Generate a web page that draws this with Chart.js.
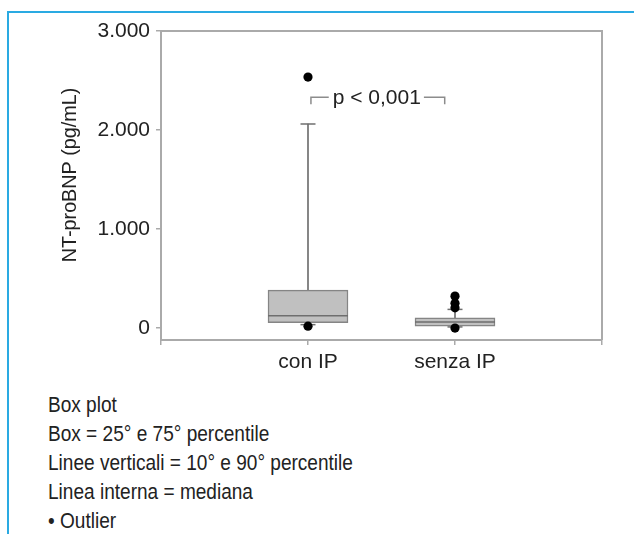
<!DOCTYPE html>
<html><head><meta charset="utf-8">
<script src="https://cdn.jsdelivr.net/npm/chart.js@4/dist/chart.umd.min.js"></script>
<style>
html,body{margin:0;padding:0;background:#fff;}
#wrap{position:relative;width:634px;height:534px;overflow:hidden;background:#fff;}
#frame{position:absolute;left:7px;top:11px;width:700px;height:600px;border-top:2px solid #2aaae2;border-left:2px solid #2aaae2;}
#cwrap{position:absolute;left:0;top:0;width:634px;height:385px;}
#notes{position:absolute;left:48px;top:390px;font-family:'Liberation Sans',sans-serif;font-size:22px;line-height:29px;color:#222;white-space:nowrap;transform:scaleX(0.866);transform-origin:0 0;}
</style></head>
<body><div id="wrap"><div id="frame"></div><div id="cwrap"><canvas id="c" width="634" height="385"></canvas></div>
<div id="notes">Box plot<br>Box = 25° e 75° percentile<br>Linee verticali = 10° e 90° percentile<br>Linea interna = mediana<br>• Outlier</div></div>
<script>
// ---- data ----
const categories = ['con IP', 'senza IP'];
const p10 = [35, 12];
const q1 = [54, 20];
const median = [124, 61];
const q3 = [384, 104];
const p90 = [2061, 189];
const outliersConIP = [2535, 20];
const outliersSenzaIP = [323, 250, 205, 0];
const yTicks = [0, 1000, 2000, 3000];
const yTickLabels = ['0', '1.000', '2.000', '3.000'];
const yTitle = 'NT-proBNP (pg/mL)';
const pLabel = 'p < 0,001';
const pBracket = {from: 1.02, to: 1.93, y: 2330, drop: 70};

const axisLabels = ['', ...categories, ''];
const TXT = '#222';
const AX = '#aaaaaa';

const outlierPts = [
  ...outliersConIP.map(v => ({x: categories[0], y: v})),
  ...outliersSenzaIP.map(v => ({x: categories[1], y: v}))
];

const framePlugin = {
  id: 'frame',
  beforeDatasetsDraw(chart) {
    const {ctx, chartArea: a} = chart;
    ctx.save();
    ctx.strokeStyle = AX; ctx.lineWidth = 2;
    ctx.beginPath();
    ctx.moveTo(a.left, a.top); ctx.lineTo(a.right, a.top); ctx.lineTo(a.right, a.bottom);
    ctx.stroke();
    ctx.restore();
  },
  afterDraw(chart) {
    const {ctx} = chart;
    const xs = chart.scales.x, ys = chart.scales.y;
    ctx.save();
    ctx.translate(70, 175);
    ctx.rotate(-Math.PI / 2);
    ctx.scale(0.94, 1);
    ctx.font = "21px 'Liberation Sans', sans-serif";
    ctx.fillStyle = TXT; ctx.textAlign = 'center'; ctx.textBaseline = 'middle';
    ctx.fillText(yTitle, 0, 0);
    ctx.restore();
    ctx.save();
    const x1 = xs.getPixelForValue(pBracket.from), x2 = xs.getPixelForValue(pBracket.to);
    const y = ys.getPixelForValue(pBracket.y), yd = ys.getPixelForValue(pBracket.y - pBracket.drop);
    ctx.font = "21px 'Liberation Sans', sans-serif";
    const tw = ctx.measureText(pLabel).width;
    const xc = (x1 + x2) / 2 - 1;
    ctx.strokeStyle = '#8c8c8c'; ctx.lineWidth = 1.5;
    ctx.beginPath();
    ctx.moveTo(x1, yd); ctx.lineTo(x1, y); ctx.lineTo(xc - tw / 2 - 4, y);
    ctx.moveTo(xc + tw / 2 + 3, y); ctx.lineTo(x2, y); ctx.lineTo(x2, yd);
    ctx.stroke();
    ctx.fillStyle = TXT; ctx.textAlign = 'center'; ctx.textBaseline = 'middle';
    ctx.fillText(pLabel, xc, y + 1);
    ctx.restore();
  }
};

new Chart(document.getElementById('c'), {
  data: {
    labels: axisLabels,
    datasets: [
      {type: 'bar', order: 6, grouped: false, barThickness: 1, backgroundColor: '#6e6e6e', borderWidth: 0,
       data: categories.map((c, i) => ({x: c, y: [q3[i], p90[i]]}))},
      {type: 'bar', order: 6, grouped: false, barThickness: 1, backgroundColor: '#6e6e6e', borderWidth: 0,
       data: categories.map((c, i) => ({x: c, y: [p10[i], q1[i]]}))},
      {type: 'bar', order: 5, grouped: false, barThickness: 80, backgroundColor: '#c0c0c0', borderColor: '#858585',
       borderWidth: 1.5, borderSkipped: false,
       data: categories.map((c, i) => ({x: c, y: [q1[i], q3[i]]}))},
      {type: 'line', order: 4, showLine: false, pointStyle: 'line', pointRadius: 40, pointBorderColor: '#6e6e6e',
       pointBorderWidth: 1.5, data: categories.map((c, i) => ({x: c, y: median[i]}))},
      {type: 'line', order: 4, showLine: false, pointStyle: 'line', pointRadius: 7.5, pointBorderColor: '#6e6e6e',
       pointBorderWidth: 1.5, data: categories.map((c, i) => ({x: c, y: p90[i]}))},
      {type: 'line', order: 4, showLine: false, pointStyle: 'line', pointRadius: 7.5, pointBorderColor: '#6e6e6e',
       pointBorderWidth: 1.5, data: categories.map((c, i) => ({x: c, y: p10[i]}))},
      {type: 'line', order: 1, showLine: false, pointStyle: 'circle', pointRadius: 4.6, pointBackgroundColor: '#000',
       pointBorderWidth: 0, data: outlierPts}
    ]
  },
  options: {
    responsive: false, animation: false, events: [],
    layout: {autoPadding: false, padding: {left: 0, top: 31, right: 32, bottom: 0}},
    plugins: {legend: {display: false}, tooltip: {enabled: false}},
    scales: {
      x: {
        type: 'category', offset: false,
        grid: {offset: false, drawOnChartArea: false, drawTicks: true, tickLength: 5, color: AX, lineWidth: 1.5},
        border: {display: true, color: AX, width: 2},
        ticks: {color: TXT, padding: 5, autoSkip: false, maxRotation: 0,
                font: {family: "'Liberation Sans', sans-serif", size: 21}},
        afterFit(s) { s.height = 45; }
      },
      y: {
        type: 'linear', min: -120, max: 3000,
        afterBuildTicks(s) { s.ticks = yTicks.map(v => ({value: v})); },
        grid: {drawOnChartArea: false, drawTicks: true, tickLength: 5, color: AX, lineWidth: 1.5},
        border: {display: true, color: AX, width: 2},
        ticks: {color: TXT, padding: 6, font: {family: "'Liberation Sans', sans-serif", size: 21},
                callback: (v, i) => yTickLabels[i]},
        afterFit(s) { s.width = 161; }
      }
    }
  },
  plugins: [framePlugin]
});
</script>
</body></html>
